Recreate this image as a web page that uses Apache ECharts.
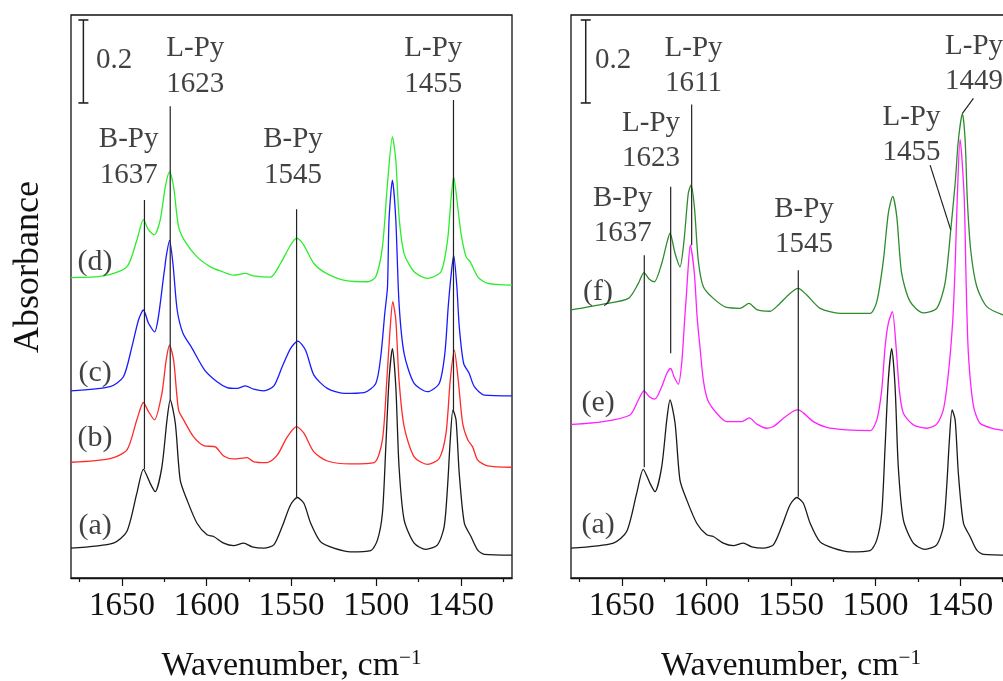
<!DOCTYPE html>
<html><head><meta charset="utf-8">
<script src="https://cdn.jsdelivr.net/npm/echarts@6/dist/echarts.min.js"></script>
<style>html,body{margin:0;padding:0;background:#fff;width:1003px;height:681px;overflow:hidden}#wrap{width:1003px;height:681px;overflow:hidden;position:relative}#c{position:absolute;left:0;top:0;width:1016px;height:681px}</style>
</head><body><div id="wrap"><div id="c"></div></div>
<script>
// ---- data (wavenumber cm-1, absorbance with offsets) ----
const specA = [[1680,0.072],[1655,0.084],[1647.1,0.112],[1641.2,0.204],[1637.3,0.262],[1633.3,0.228],[1630.4,0.208],[1626.4,0.268],[1623.4,0.381],[1621.5,0.429],[1618.5,0.373],[1615.6,0.236],[1611.6,0.188],[1605.7,0.132],[1599.8,0.104],[1595.9,0.100],[1590,0.084],[1584.1,0.078],[1578.2,0.084],[1573.2,0.075],[1566.3,0.072],[1560.4,0.080],[1555.5,0.124],[1550.6,0.176],[1546.6,0.194],[1542.7,0.180],[1538.7,0.132],[1532.8,0.087],[1525,0.072],[1515.1,0.063],[1503.3,0.066],[1499.3,0.092],[1496.4,0.156],[1494.4,0.316],[1492.5,0.477],[1490.5,0.553],[1488.5,0.461],[1486.6,0.268],[1483.6,0.140],[1477.7,0.084],[1470.8,0.069],[1463.9,0.080],[1460,0.124],[1458,0.220],[1456.4,0.333],[1454.8,0.405],[1453,0.381],[1451.1,0.252],[1448.1,0.132],[1444.2,0.100],[1440.2,0.067],[1436.3,0.057],[1420,0.055]];
const specB = [[1680,0.279],[1657,0.288],[1647.1,0.308],[1641.2,0.381],[1637.3,0.423],[1634.3,0.401],[1630.8,0.381],[1626.4,0.445],[1623.9,0.525],[1621.9,0.561],[1619.5,0.525],[1616.6,0.405],[1613.6,0.381],[1607.7,0.340],[1601.8,0.319],[1594.9,0.316],[1590,0.294],[1584.1,0.287],[1576.2,0.290],[1572.3,0.280],[1564.3,0.278],[1558.4,0.296],[1552.5,0.340],[1547,0.365],[1542.7,0.349],[1536.8,0.304],[1528.9,0.282],[1515.1,0.275],[1501.3,0.278],[1496.4,0.333],[1493.8,0.477],[1491.9,0.598],[1490.3,0.666],[1488.5,0.622],[1486.6,0.477],[1483.6,0.365],[1477.7,0.292],[1469.8,0.274],[1462.9,0.288],[1458.9,0.349],[1456.4,0.477],[1454,0.549],[1451.7,0.477],[1449.1,0.373],[1446.1,0.333],[1443.2,0.316],[1440.2,0.284],[1434.3,0.270],[1420,0.267]];
const specC = [[1680,0.451],[1657,0.461],[1649.1,0.485],[1644.1,0.557],[1640.2,0.622],[1637.3,0.646],[1634.3,0.614],[1630.8,0.593],[1624.9,0.742],[1623.9,0.774],[1621.9,0.814],[1619.9,0.758],[1617.4,0.646],[1614,0.590],[1609.1,0.557],[1601.2,0.501],[1593.9,0.473],[1588,0.459],[1582.1,0.457],[1577.2,0.463],[1572.3,0.455],[1566.3,0.451],[1560.4,0.463],[1555.5,0.509],[1550.6,0.553],[1546.3,0.571],[1541.7,0.549],[1536.8,0.489],[1528.9,0.457],[1519.1,0.445],[1507.2,0.447],[1500.3,0.469],[1497.4,0.533],[1495,0.638],[1493.4,0.702],[1492.5,0.863],[1490.5,0.959],[1488.5,0.863],[1486.6,0.662],[1483.6,0.541],[1477.7,0.469],[1469.8,0.449],[1462.9,0.469],[1459.6,0.541],[1457.6,0.654],[1456,0.726],[1454.4,0.778],[1452.5,0.702],[1451.1,0.606],[1448.5,0.517],[1445.2,0.493],[1442.2,0.461],[1436.3,0.441],[1420,0.439]];
const specD = [[1680,0.724],[1660.9,0.728],[1647.1,0.750],[1641.2,0.814],[1637.3,0.864],[1634.3,0.839],[1630.9,0.827],[1627.4,0.863],[1624.4,0.943],[1621.9,0.979],[1619.5,0.943],[1616.6,0.847],[1612.6,0.810],[1605.7,0.774],[1597.8,0.750],[1591.9,0.740],[1584.1,0.730],[1577.2,0.734],[1572.3,0.728],[1562.4,0.725],[1556.5,0.758],[1550.6,0.802],[1547,0.819],[1542.7,0.802],[1536.8,0.758],[1528.9,0.733],[1517.1,0.716],[1505.2,0.714],[1500.3,0.726],[1496.4,0.798],[1493.4,0.951],[1490.5,1.063],[1488.5,1.007],[1486.6,0.871],[1483.6,0.782],[1477.7,0.738],[1469.8,0.722],[1461.9,0.738],[1458,0.814],[1456,0.911],[1454.4,0.967],[1452,0.895],[1450.1,0.831],[1447.1,0.774],[1444.6,0.762],[1440.2,0.726],[1434.3,0.710],[1420,0.706]];
const specE = [[1680,0.370],[1660.9,0.377],[1645.1,0.393],[1640.2,0.429],[1636.9,0.451],[1633.7,0.437],[1630.4,0.431],[1626.4,0.461],[1623.4,0.493],[1621.1,0.505],[1619.1,0.485],[1616.6,0.467],[1614.6,0.517],[1612.6,0.638],[1612,0.670],[1611,0.734],[1609.5,0.802],[1607.1,0.734],[1605.5,0.630],[1603.8,0.557],[1601.8,0.477],[1599.2,0.429],[1593.9,0.397],[1588,0.377],[1579.1,0.377],[1574.6,0.386],[1570.2,0.371],[1564.3,0.361],[1560.4,0.365],[1554.5,0.385],[1548.6,0.402],[1545.7,0.405],[1542.7,0.398],[1536.8,0.377],[1528.9,0.363],[1517.1,0.357],[1503.3,0.355],[1499.3,0.381],[1496.4,0.453],[1494.4,0.557],[1492.5,0.614],[1490.1,0.642],[1487.9,0.557],[1486,0.453],[1483.6,0.397],[1477.7,0.369],[1469.8,0.361],[1463.9,0.371],[1460,0.405],[1457,0.493],[1454.4,0.622],[1453,0.753],[1451.7,0.922],[1450.1,1.057],[1447.7,0.922],[1446.5,0.711],[1445.2,0.542],[1442.2,0.415],[1438.3,0.373],[1430.4,0.360],[1424.7,0.356],[1420,0.355]];
const specF = [[1680,0.646],[1660.9,0.660],[1646.1,0.674],[1640.2,0.710],[1636.9,0.736],[1633.7,0.720],[1630.8,0.714],[1626.4,0.758],[1623.4,0.807],[1621.5,0.831],[1618.5,0.782],[1615.6,0.750],[1613.2,0.814],[1610.7,0.927],[1609.1,0.947],[1607.1,0.895],[1604.8,0.766],[1601.8,0.702],[1595.9,0.674],[1588,0.652],[1580.1,0.650],[1574.8,0.662],[1570.2,0.647],[1562.4,0.643],[1557.5,0.658],[1550.6,0.686],[1545.8,0.698],[1540.7,0.682],[1532.8,0.650],[1521,0.638],[1503.3,0.638],[1499.3,0.666],[1495.4,0.766],[1492.5,0.879],[1489.9,0.920],[1487.5,0.871],[1484.6,0.734],[1479.6,0.666],[1471.8,0.639],[1463.9,0.650],[1459,0.710],[1455.6,0.839],[1453,0.951],[1451.1,1.055],[1448.7,1.120],[1447.1,1.055],[1445.8,0.911],[1443.8,0.790],[1440.2,0.702],[1434.3,0.654],[1424.7,0.634],[1420,0.632]];

const majorTicks = [1650, 1600, 1550, 1500, 1450];
const minorTicks = [1675, 1625, 1575, 1525, 1475, 1425];

// annotation lines: [[wn, A], [wn, A]]
const leftLines = [[[1636.7,0.911],[1636.7,0.262]], [[1621.5,1.137],[1621.5,0.429]], [[1547.0,0.889],[1547.0,0.195]], [[1454.5,1.152],[1454.5,0.405]]];
const rightLines = [[[1636.7,0.778],[1636.7,0.267]], [[1621.1,0.943],[1621.1,0.542]], [[1608.7,1.141],[1608.7,0.802]], [[1545.7,0.742],[1545.7,0.196]], [[1467.8,0.995],[1455.6,0.839]], [[1442.2,1.156],[1448.7,1.120]]];
const leftPeakLabels = [['B-Py\n1637',1646.0,1.013], ['L-Py\n1623',1606.7,1.233], ['B-Py\n1545',1549.1,1.013], ['L-Py\n1455',1466.4,1.233]];
const rightPeakLabels = [['B-Py\n1637',1649.4,0.873], ['L-Py\n1623',1632.7,1.053], ['L-Py\n1611',1607.6,1.235], ['B-Py\n1545',1542.3,0.847], ['L-Py\n1455',1478.8,1.069], ['L-Py\n1449',1441.8,1.238]];
const leftCurveLabels = [['(a)',1665.8,0.124], ['(b)',1665.8,0.337], ['(c)',1665.8,0.494], ['(d)',1665.8,0.762]];
const rightCurveLabels = [['(a)',1664,0.128], ['(e)',1664,0.422], ['(f)',1664,0.690]];
// scale bar: [wn, top, bottom], label [text, wn, A]
const leftScale = [1672.7, 1.345, 1.145];
const rightScale = [1671.3, 1.345, 1.145];
const leftScaleLabel = ['0.2', 1665.2, 1.248];
const rightScaleLabel = ['0.2', 1665.8, 1.248];

// ---- chart ----
const FONT = '"Liberation Serif", "Times New Roman", serif';
const INK = '#111';
const chart = echarts.init(document.getElementById('c'), null, {renderer: 'canvas'});

function xAxes(grid) {
  const base = {gridIndex: grid, type: 'value', min: 1420, max: 1680, inverse: true, position: 'bottom', splitLine: {show: false}};
  return [
    Object.assign({}, base, {
      axisLine: {show: true, lineStyle: {color: INK, width: 1.3}},
      axisTick: {show: true, inside: false, length: 8, customValues: majorTicks, lineStyle: {color: INK, width: 1.2}},
      axisLabel: {show: true, customValues: majorTicks, formatter: v => String(v), fontFamily: FONT, fontSize: 33, color: INK, margin: 12},
      name: 'Wavenumber, cm{sup|\u22121}', nameLocation: 'middle', nameGap: 70,
      nameTextStyle: {fontFamily: FONT, fontSize: 34, color: INK,
        rich: {sup: {fontFamily: FONT, fontSize: 21, color: INK, verticalAlign: 'top', padding: [0,0,16,0]}}}
    }),
    Object.assign({}, base, {
      axisLine: {show: false},
      axisTick: {show: true, inside: false, length: 4, customValues: minorTicks, lineStyle: {color: INK, width: 1.2}},
      axisLabel: {show: false}
    })
  ];
}

const series = [];
function curve(data, grid, color) {
  series.push({type: 'line', data: data, xAxisIndex: grid * 2, yAxisIndex: grid,
    showSymbol: false, symbol: 'none', smooth: 0.25, silent: true,
    lineStyle: {color: color, width: 1.3}, z: 2});
}
curve(specA, 0, '#1a1a1a');
curve(specB, 0, '#ff2a2a');
curve(specC, 0, '#1a1aff');
curve(specD, 0, '#2aee2a');
curve(specA, 1, '#1a1a1a');
curve(specE, 1, '#ff22ff');
curve(specF, 1, '#2e8b2e');

function lines(list, grid) {
  list.forEach(seg => series.push({type: 'line', data: seg, xAxisIndex: grid * 2, yAxisIndex: grid,
    showSymbol: false, symbol: 'none', silent: true, lineStyle: {color: '#222', width: 1.2}, z: 5}));
}
lines(leftLines, 0);
lines(rightLines, 1);

function scaleBar(s, grid) {
  series.push({type: 'line', data: [[s[0], s[1]], [s[0], s[2]]], xAxisIndex: grid * 2, yAxisIndex: grid,
    showSymbol: true, symbol: 'rect', symbolSize: [10, 1.6], silent: true,
    itemStyle: {color: '#222'}, lineStyle: {color: '#222', width: 1.5}, z: 5});
}
scaleBar(leftScale, 0);
scaleBar(rightScale, 1);

function labels(list, grid, size, lh, align) {
  series.push({type: 'scatter', xAxisIndex: grid * 2, yAxisIndex: grid, silent: true, z: 6,
    symbolSize: 1, itemStyle: {color: 'rgba(0,0,0,0)'},
    data: list.map(l => ({value: [l[1], l[2]], name: l[0]})),
    label: {show: true, position: 'inside', formatter: '{b}', fontFamily: FONT, fontSize: size,
      lineHeight: lh, color: INK, textBorderWidth: 0, textBorderColor: 'transparent',
      align: align || 'center', verticalAlign: 'middle'}});
}
labels(leftPeakLabels, 0, 29, 36);
labels(rightPeakLabels, 1, 29, 35);
labels(leftCurveLabels, 0, 30, 32);
labels(rightCurveLabels, 1, 30, 32);
labels([leftScaleLabel], 0, 29, 32, 'left');
labels([rightScaleLabel], 1, 29, 32, 'left');

chart.setOption({
  animation: false,
  backgroundColor: '#fff',
  grid: [
    {left: 71, top: 15, width: 441, height: 563, outerBoundsMode: 'none', containLabel: false, show: true, borderColor: INK, borderWidth: 1.3, backgroundColor: 'transparent'},
    {left: 571, top: 15, width: 440, height: 563, outerBoundsMode: 'none', containLabel: false, show: true, borderColor: INK, borderWidth: 1.3, backgroundColor: 'transparent'}
  ],
  xAxis: xAxes(0).concat(xAxes(1)),
  yAxis: [
    {gridIndex: 0, type: 'value', min: 0, max: 1.357, show: false},
    {gridIndex: 1, type: 'value', min: 0, max: 1.357, show: false}
  ],
  graphic: [{type: 'text', x: 29, y: 267, rotation: Math.PI / 2,
    style: {text: 'Absorbance', font: '36px "Liberation Serif"', fill: INK,
      align: 'center', verticalAlign: 'middle', textAlign: 'center', textVerticalAlign: 'middle'}}],
  series: series
});
</script>
</body></html>
